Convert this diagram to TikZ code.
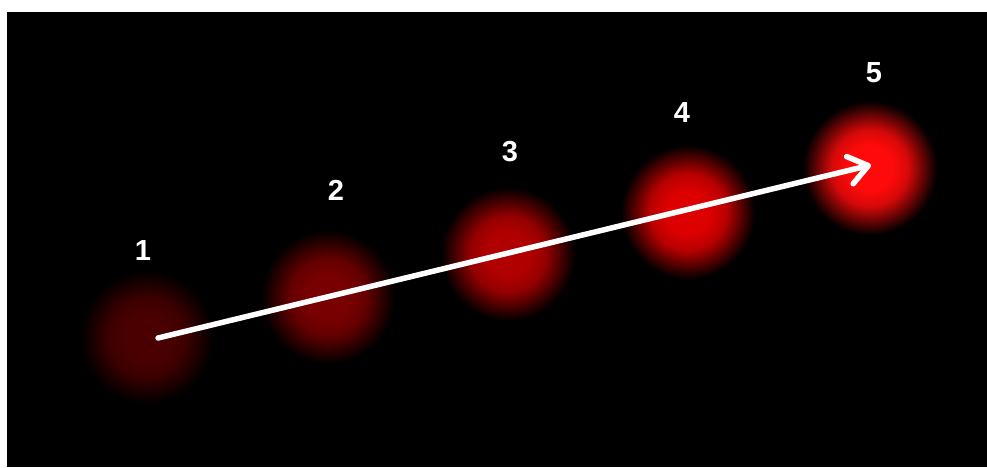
\documentclass[tikz,border=0pt]{standalone}
\usepackage{fontspec}
\setmainfont{Liberation Sans}
\usetikzlibrary{arrows.meta}
\definecolor{ca}{RGB}{74,0,0}
\definecolor{cb}{RGB}{120,0,0}
\definecolor{cc}{RGB}{176,0,0}
\definecolor{cd}{RGB}{220,0,0}
\definecolor{ce}{RGB}{255,10,10}
\newcommand{\myblobshade}[2]{%
  \pgfdeclareradialshading{#1}{\pgfpoint{0bp}{0bp}}{color(0bp)=(#2); color(22bp)=(#2); color(38bp)=(#2!84!black); color(53bp)=(#2!40!black); color(67bp)=(black); color(68bp)=(black)}}
\myblobshade{blobA}{ca}
\myblobshade{blobB}{cb}
\myblobshade{blobC}{cc}
\myblobshade{blobD}{cd}
\myblobshade{blobE}{ce}
\begin{document}
\begin{tikzpicture}[x=1pt,y=-1pt,
  numlabel/.style={text=white, font=\fontsize{29}{29}\selectfont\bfseries, inner sep=0pt},
  blobspot/.style={inner sep=0pt, outer sep=0pt},
  arrowline/.style={draw=white, line width=5.5pt, line cap=round, -{Straight Barb[length=19pt,width=28pt,round]}}]
\useasboundingbox (0,0) rectangle (987,467);
\fill[white] (0,0) rectangle (987,467);
\fill[black] (7,12) rectangle (987,467);
\node[blobspot] (b1) at (147,337) {\pgfuseshading{blobA}};
\node[blobspot] (b2) at (328,297) {\pgfuseshading{blobB}};
\node[blobspot] (b3) at (508,254) {\pgfuseshading{blobC}};
\node[blobspot] (b4) at (688,212) {\pgfuseshading{blobD}};
\node[blobspot] (b5) at (870,168) {\pgfuseshading{blobE}};
\node[numlabel] (l1) at (143,251) {1};
\node[numlabel] (l2) at (336,190) {2};
\node[numlabel] (l3) at (510,152) {3};
\node[numlabel] (l4) at (682,113) {4};
\node[numlabel] (l5) at (874,73) {5};
\coordinate (s) at (158,338);
\coordinate (e) at (871,165);
\draw[arrowline] (s) -- (e);
\end{tikzpicture}
\end{document}
